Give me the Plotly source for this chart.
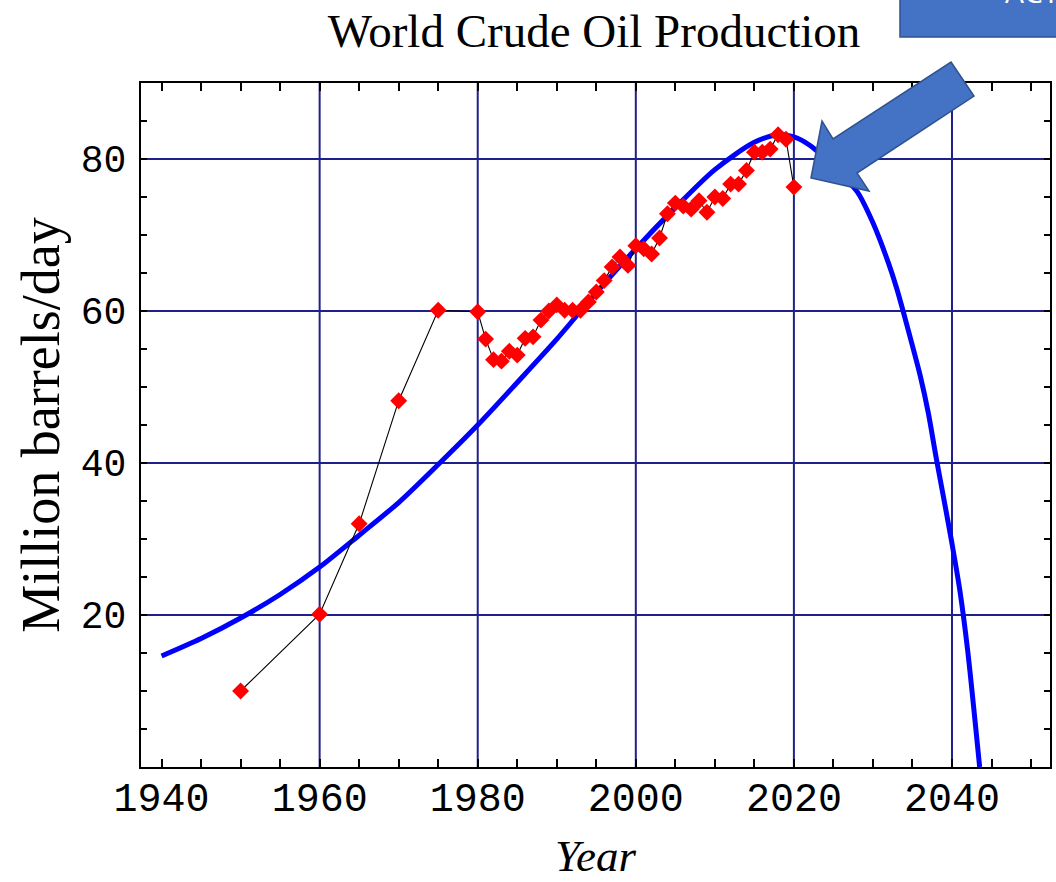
import plotly.graph_objects as go

# ---- data ----
obs_years = [1950, 1960, 1965, 1970, 1975, 1980, 1981, 1982, 1983, 1984, 1985, 1986, 1987,
             1988, 1989, 1990, 1991, 1992, 1993, 1994, 1995, 1996, 1997, 1998, 1999, 2000,
             2001, 2002, 2003, 2004, 2005, 2006, 2007, 2008, 2009, 2010, 2011, 2012, 2013,
             2014, 2015, 2016, 2017, 2018, 2019, 2020]
obs_values = [10.0, 20.1, 32.0, 48.2, 60.1, 59.9, 56.3, 53.6, 53.4, 54.7, 54.2, 56.4, 56.6,
              58.8, 60.0, 60.8, 60.1, 60.1, 60.1, 61.2, 62.5, 64.0, 65.8, 67.1, 66.0, 68.6,
              68.2, 67.5, 69.6, 72.8, 74.2, 73.8, 73.4, 74.5, 73.0, 75.0, 74.8, 76.7, 76.7,
              78.5, 80.9, 80.9, 81.3, 83.2, 82.6, 76.3]

fit_years = [1940, 1945, 1950, 1955, 1960, 1965, 1970, 1975, 1980, 1985, 1990, 1995, 2000,
             2005, 2010, 2015, 2018, 2020, 2022, 2025, 2028, 2030, 2032, 2033, 2034, 2035,
             2036, 2037, 2038, 2039, 2040, 2041, 2042, 2043, 2043.5]
fit_values = [14.6, 16.9, 19.6, 22.7, 26.3, 30.5, 34.8, 39.8, 45.0, 50.6, 56.3, 62.4, 68.2,
              73.6, 78.6, 82.2, 83.2, 82.9, 81.8, 79.0, 75.7, 71.6, 66.2, 63.0, 59.3, 55.4,
              51.4, 46.6, 40.7, 35.1, 29.4, 23.2, 15.2, 5.2, 0.0]

x_tick_vals = [1940, 1960, 1980, 2000, 2020, 2040]
x_tick_text = ["1940", "1960", "1980", "2000", "2020", "2040"]
y_tick_vals = [20, 40, 60, 80]
y_tick_text = ["20", "40", "60", "80"]

title_text = "World Crude Oil Production"
x_title = "Year"
y_title = "Million barrels/day"
callout_text = "ACTUAL"

# ---- layout geometry (pixels) ----
W, H = 1056, 882
ML, MR, MT, MB = 141, 6, 83, 115
PW, PH = W - ML - MR, H - MT - MB


def px(xp):
    return (xp - ML) / PW


def py(yp):
    return (H - MB - yp) / PH


GRID = "#20208c"

fig = go.Figure()

fig.add_trace(go.Scatter(
    x=fit_years, y=fit_values, mode="lines",
    line=dict(color="#0000ff", width=5, shape="spline", smoothing=0.8),
    hoverinfo="skip", showlegend=False))

fig.add_trace(go.Scatter(
    x=obs_years, y=obs_values, mode="lines+markers",
    line=dict(color="black", width=1.1),
    marker=dict(symbol="diamond", size=13, color="#ff0000", line=dict(width=0)),
    showlegend=False))

shapes = []
for xv in x_tick_vals[1:]:
    shapes.append(dict(type="line", xref="x", yref="paper", x0=xv, x1=xv, y0=0, y1=1,
                       line=dict(color=GRID, width=2), layer="below"))

# callout box (top right, clipped by the page edge)
shapes.append(dict(type="rect", xref="paper", yref="paper",
                   x0=px(900), x1=px(1120), y0=py(37), y1=py(-30),
                   fillcolor="#4472c4", line=dict(color="#2f528f", width=1.5), layer="above"))

# block arrow pointing at the 2020 value
arrow_pts = [(951, 62), (974, 96), (857, 173), (869, 191), (811, 178), (822, 121), (833, 139)]
path = "M " + " L ".join(f"{px(a):.5f},{py(b):.5f}" for a, b in arrow_pts) + " Z"
shapes.append(dict(type="path", xref="paper", yref="paper", path=path,
                   fillcolor="#4472c4", line=dict(color="#2f528f", width=1.5), layer="above"))

fig.update_layout(
    width=W, height=H,
    margin=dict(l=ML, r=MR, t=MT, b=MB, pad=0, autoexpand=False),
    paper_bgcolor="white", plot_bgcolor="white",
    title=dict(text=title_text, x=0.5625, xanchor="center", xref="container",
               y=1 - 31 / H, yanchor="middle", yref="container",
               font=dict(family="Liberation Serif", size=47, color="black")),
    shapes=shapes,
    annotations=[dict(text=callout_text, xref="paper", yref="paper",
                      x=px(1003), y=py(14), xanchor="left", yanchor="bottom",
                      showarrow=False,
                      font=dict(family="Open Sans", size=30, color="white"))],
    xaxis=dict(range=[1937.4, 2052.4], tickmode="array", tickvals=x_tick_vals,
               ticktext=x_tick_text, showgrid=False, zeroline=False, automargin=False,
               showline=True, linecolor="black", linewidth=2, mirror="ticks",
               ticks="inside", ticklen=8, tickwidth=1.5, tickcolor="black",
               minor=dict(tick0=1940, dtick=5, ticks="inside", ticklen=8,
                          tickwidth=1.5, tickcolor="black", showgrid=False),
               tickfont=dict(family="Liberation Mono", size=40, color="black"),
               ticklabelstandoff=-6,
               title=dict(text=x_title, standoff=17,
                          font=dict(family="Liberation Serif", size=45, color="black",
                                    style="italic"))),
    yaxis=dict(range=[0, 90], tickmode="array", tickvals=y_tick_vals,
               ticktext=y_tick_text, showgrid=True, gridcolor=GRID, gridwidth=2,
               zeroline=False, showline=True, linecolor="black", linewidth=2,
               mirror="ticks", ticks="inside", ticklen=6, tickwidth=1.5,
               tickcolor="black", automargin=False,
               minor=dict(tick0=0, dtick=5, ticks="inside", ticklen=6,
                          tickwidth=1.5, tickcolor="black", showgrid=False),
               tickfont=dict(family="Liberation Mono", size=38, color="black"),
               ticklabelstandoff=5,
               title=dict(text=y_title, standoff=4,
                          font=dict(family="Liberation Serif", size=54, color="black"))),
)

fig.write_html("out.html", config={"displayModeBar": False},
               post_script="document.body.style.margin='0';"
                           "document.body.style.overflow='hidden';")
